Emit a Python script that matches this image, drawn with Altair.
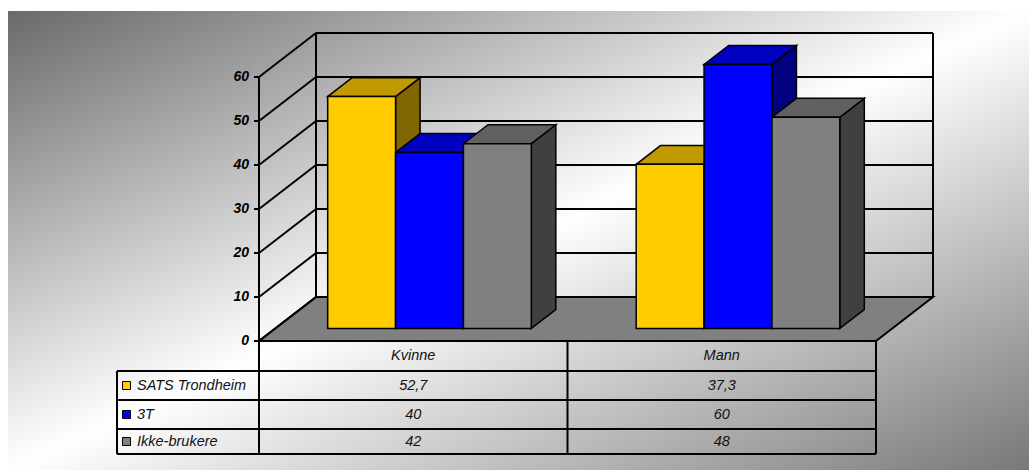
import altair as alt
import pandas as pd

# ---------------- data ----------------
categories = ["Kvinne", "Mann"]
series = ["SATS Trondheim", "3T", "Ikke-brukere"]
sats_trondheim = [52.7, 37.3]
tre_t = [40, 60]
ikke_brukere = [42, 48]
y_ticks = [0, 10, 20, 30, 40, 50, 60]

front_colors = ["#FFCC00", "#0000FF", "#808080"]
top_colors = ["#C09A00", "#0000C0", "#606060"]
side_colors = ["#806600", "#000080", "#404040"]

values = [sats_trondheim, tre_t, ikke_brukere]

# ---------------- layout (scale / style constants) ----------------
W, H = 770, 470            # plot area (padding left 259)
PX_CAT = 308.5             # pixels per category unit
PX_VAL = 4.4               # pixels per value unit
ORIGIN_Y = 341             # pixel row of value 0 on the front plane
DX = 57 / PX_CAT           # depth offset in category units
DY = 10                    # depth offset in value units
F1, F2 = 0.285, 0.715      # bar depth span (fraction of floor depth)
GROUP_PAD = 0.17
BAR_W = 0.22
YMAX = max(y_ticks)

def px_y(p):
    return (ORIGIN_Y - p) / PX_VAL

def px_x(p):
    return (p - 259) / PX_CAT

xs = alt.Scale(domain=[0, W / PX_CAT], nice=False, zero=False)
ys = alt.Scale(domain=[px_y(H), px_y(0)], nice=False, zero=False)
FONT = "Liberation Sans"

# ---------------- background ----------------
one = pd.DataFrame({"a": [0]})
bg = alt.Chart(one).mark_rect(
    fill=alt.LinearGradient(
        gradient="linear", x1=0, y1=0, x2=1, y2=1,
        stops=[alt.GradientStop(offset=0, color="#6a6a6a"),
               alt.GradientStop(offset=0.5, color="#ffffff"),
               alt.GradientStop(offset=1, color="#787878")]),
).encode(x=alt.value(8 - 259), x2=alt.value(W), y=alt.value(11), y2=alt.value(H))

# ---------------- floor ----------------
ncat = len(categories)
floor_df = pd.DataFrame({
    "y": [0, DY], "x": [0, DX], "x2": [ncat, ncat + DX]})
floor = alt.Chart(floor_df).mark_area(
    orient="horizontal", fill="#808080", stroke="black", strokeWidth=2
).encode(
    y=alt.Y("y:Q", scale=ys, axis=None),
    x=alt.X("x:Q", scale=xs, axis=None), x2="x2:Q")

# ---------------- walls / gridlines ----------------
seg = []
for t in y_ticks:
    seg.append((DX, t + DY, ncat + DX, t + DY))   # back wall gridline
    seg.append((0, t, DX, t + DY))                # left wall diagonal
seg.append((DX, DY, DX, YMAX + DY))               # left wall back edge
seg.append((ncat + DX, DY, ncat + DX, YMAX + DY)) # back wall right edge
seg.append((0, 0, 0, YMAX))                       # front axis line
seg_df = pd.DataFrame(seg, columns=["x", "y", "x2", "y2"])
walls = alt.Chart(seg_df).mark_rule(color="black", strokeWidth=2).encode(
    x=alt.X("x:Q", scale=xs, axis=None), x2="x2:Q",
    y=alt.Y("y:Q", scale=ys, axis=None), y2="y2:Q")

# ---------------- value axis (ticks + labels) ----------------
tick_df = pd.DataFrame({"v": y_ticks, "lab": [str(t) for t in y_ticks]})
axis_ticks = alt.Chart(tick_df).mark_rule(color="black", strokeWidth=2).encode(
    x=alt.value(-5), x2=alt.value(0),
    y=alt.Y("v:Q", scale=ys, axis=None))
axis_labels = alt.Chart(tick_df).mark_text(
    font=FONT, fontStyle="italic", fontWeight="bold", fontSize=14,
    color="black", align="right", baseline="middle", dx=-10
).encode(x=alt.value(0), y=alt.Y("v:Q", scale=ys, axis=None), text="lab:N")

# ---------------- bars ----------------
side_rows, top_rows, front_rows = [], [], []
for ci, cat in enumerate(categories):
    for si, s in enumerate(series):
        v = values[si][ci]
        l = ci + GROUP_PAD + si * BAR_W
        r = l + BAR_W
        bid = f"{cat}-{s}"
        for f in (F1, F2):
            side_rows.append({"id": bid, "x": r + f * DX, "y": f * DY,
                              "y2": v + f * DY, "c": side_colors[si]})
            top_rows.append({"id": bid, "y": v + f * DY, "x": l + f * DX,
                             "x2": r + f * DX, "c": top_colors[si]})
        front_rows.append({"id": bid, "x": l + F1 * DX, "x2": r + F1 * DX,
                           "y": F1 * DY, "y2": v + F1 * DY, "c": front_colors[si]})

sides = alt.Chart(pd.DataFrame(side_rows)).mark_area(
    orient="vertical", stroke="black", strokeWidth=1.5, fillOpacity=1
).encode(x=alt.X("x:Q", scale=xs, axis=None),
         y=alt.Y("y:Q", scale=ys, axis=None), y2="y2:Q",
         fill=alt.Fill("c:N", scale=None), detail="id:N")
tops = alt.Chart(pd.DataFrame(top_rows)).mark_area(
    orient="horizontal", stroke="black", strokeWidth=1.5, fillOpacity=1
).encode(y=alt.Y("y:Q", scale=ys, axis=None),
         x=alt.X("x:Q", scale=xs, axis=None), x2="x2:Q",
         fill=alt.Fill("c:N", scale=None), detail="id:N")
fronts = alt.Chart(pd.DataFrame(front_rows)).mark_rect(
    stroke="black", strokeWidth=1.5
).encode(x=alt.X("x:Q", scale=xs, axis=None), x2="x2:Q",
         y=alt.Y("y:Q", scale=ys, axis=None), y2="y2:Q",
         fill=alt.Fill("c:N", scale=None))

# ---------------- data table ----------------
row_px = [341, 371, 400, 429, 454]
row_y = [px_y(p) for p in row_px]
left_x = px_x(117)
tseg = []
for cx in range(ncat + 1):
    tseg.append((cx, row_y[0], cx, row_y[-1]))
tseg.append((left_x, row_y[1], left_x, row_y[-1]))
for ry in row_y[1:]:
    tseg.append((left_x, ry, ncat, ry))
tseg_df = pd.DataFrame(tseg, columns=["x", "y", "x2", "y2"])
table_lines = alt.Chart(tseg_df).mark_rule(color="black", strokeWidth=2).encode(
    x=alt.X("x:Q", scale=xs, axis=None), x2="x2:Q",
    y=alt.Y("y:Q", scale=ys, axis=None), y2="y2:Q")

row_mid = [(row_y[i] + row_y[i + 1]) / 2 for i in range(len(row_y) - 1)]
txt = []
for ci, cat in enumerate(categories):
    txt.append({"x": ci + 0.5, "y": row_mid[0], "t": cat})
    for si in range(len(series)):
        v = values[si][ci]
        txt.append({"x": ci + 0.5, "y": row_mid[si + 1],
                    "t": f"{v:g}".replace(".", ",")})
cell_text = alt.Chart(pd.DataFrame(txt)).mark_text(
    font=FONT, fontStyle="italic", fontSize=14.5, color="#111111", align="center",
    baseline="middle"
).encode(x=alt.X("x:Q", scale=xs, axis=None), y=alt.Y("y:Q", scale=ys, axis=None),
         text="t:N")

leg = pd.DataFrame({"s": series, "y": row_mid[1:], "c": front_colors,
                    "xs": [px_x(126.5)] * 3, "xt": [px_x(137)] * 3})
leg_sq = alt.Chart(leg).mark_square(size=64, stroke="black", strokeWidth=1,
                                    opacity=1).encode(
    x=alt.X("xs:Q", scale=xs, axis=None), y=alt.Y("y:Q", scale=ys, axis=None),
    fill=alt.Fill("c:N", scale=None))
leg_txt = alt.Chart(leg).mark_text(
    font=FONT, fontStyle="italic", fontSize=14.5, color="#111111", align="left",
    baseline="middle"
).encode(x=alt.X("xt:Q", scale=xs, axis=None), y=alt.Y("y:Q", scale=ys, axis=None),
         text="s:N")

chart = alt.layer(
    bg, floor, walls, axis_ticks, axis_labels, sides, tops, fronts,
    table_lines, cell_text, leg_sq, leg_txt
).properties(
    width=W, height=H,
    padding={"left": 259, "top": 0, "right": 0, "bottom": 0},
    autosize=alt.AutoSizeParams(type="none"),
    background="white",
).configure_view(stroke=None, fill=None)

chart.save("out.html", embed_options={"renderer": "svg", "actions": False})
